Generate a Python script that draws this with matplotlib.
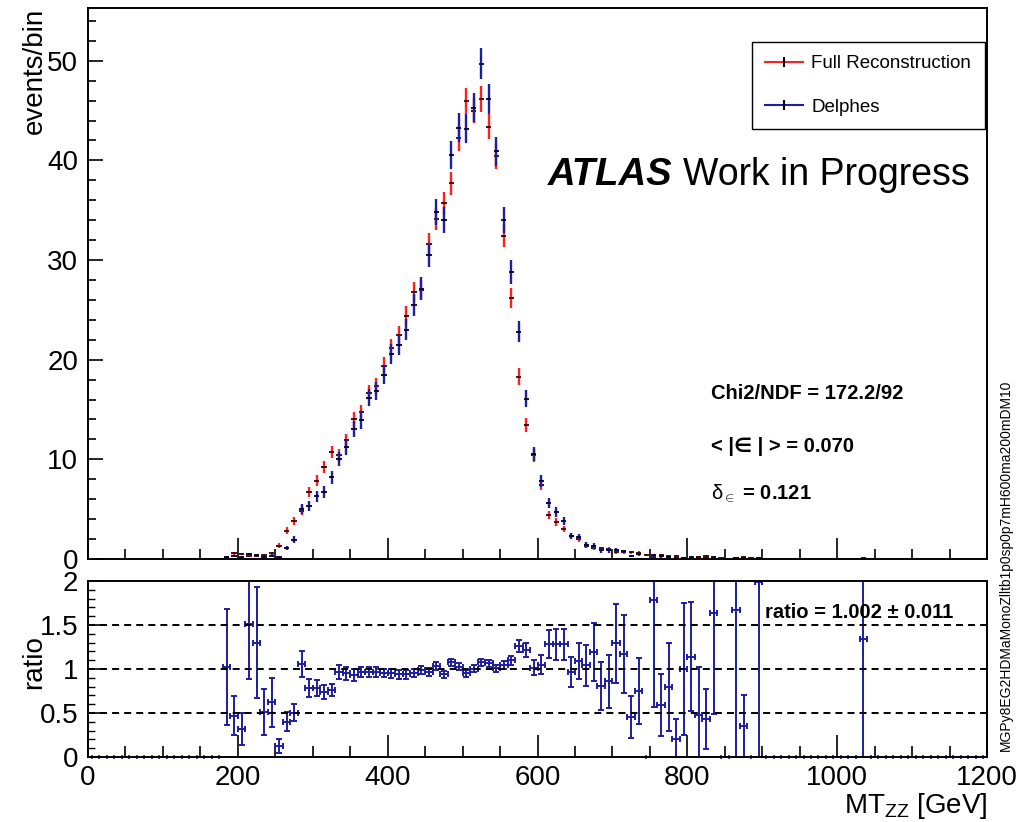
import matplotlib
matplotlib.use("Agg")
import matplotlib.pyplot as plt
from matplotlib.lines import Line2D
import numpy as np

plt.rcParams['font.family'] = ['Liberation Sans', 'DejaVu Sans']
plt.rcParams['mathtext.fontset'] = 'custom'
plt.rcParams['mathtext.rm'] = 'Liberation Sans'
plt.rcParams['mathtext.it'] = 'Liberation Sans:italic'
plt.rcParams['mathtext.bf'] = 'Liberation Sans:bold'

# 10 GeV bins from 0 to 1200 GeV
bin_edges = np.arange(0, 1210, 10)
centers = 0.5 * (bin_edges[:-1] + bin_edges[1:])

# events/bin (bin 0 = 0-10 GeV)
full_reco = [0] * 18 + [
    0.15, 0.57, 0.5, 0.3, 0.3, 0.4, 0.55, 1.35, 2.85, 3.8,
    4.85, 6.7, 7.85, 9.2, 10.75, 10.4, 11.9, 14.0, 14.7, 16.7,
    17.4, 19.4, 21.2, 22.5, 24.4, 26.8, 27.0, 31.6, 34.1, 35.7,
    37.7, 42.2, 46.0, 45.0, 46.2, 43.4, 40.4, 32.4, 26.2, 18.3,
    13.4, 10.4, 7.4, 4.4, 3.7, 3.0, 2.35, 2.0, 1.35, 1.1,
    1.05, 1.0, 0.7, 0.65, 0.65, 0.6, 0.4, 0.2, 0.42, 0.25,
    0.28, 0.12, 0.14, 0.21, 0.28, 0.11, 0.1, 0, 0.06, 0.2,
    0.1, 0.05, 0.04, 0, 0.04, 0.04, 0.04, 0.04, 0.04, 0,
    0, 0.04, 0, 0, 0, 0.04, 0.04, 0, 0, 0.04,
    0, 0, 0.04, 0, 0, 0, 0, 0, 0.04, 0,
    0.04, 0]

delphes = [0] * 18 + [
    0.15, 0.27, 0.16, 0.45, 0.39, 0.2, 0.34, 0.18, 1.1, 1.95,
    5.0, 5.35, 6.3, 6.7, 8.2, 10.0, 11.2, 13.0, 13.9, 16.2,
    16.9, 18.5, 20.6, 21.5, 23.0, 25.5, 27.1, 30.5, 34.8, 34.0,
    40.5, 43.3, 43.2, 45.3, 49.7, 46.2, 40.9, 34.0, 28.8, 22.8,
    16.1, 10.5, 7.8, 5.6, 4.7, 3.8, 2.3, 2.2, 1.4, 1.3,
    0.85, 0.85, 0.9, 0.75, 0.3, 0.45, 0, 0.35, 0.25, 0.2,
    0.06, 0.12, 0.16, 0.1, 0.12, 0.18, 0, 0.04, 0.1, 0.07,
    0, 0.12, 0, 0.04, 0, 0, 0, 0, 0.04, 0.04,
    0, 0, 0.04, 0, 0, 0.05, 0.04, 0, 0.04, 0,
    0, 0, 0, 0, 0, 0, 0, 0, 0, 0,
    0, 0]

# Delphes / Full Reconstruction
ratio = [0] * 18 + [
    1.02, 0.47, 0.315, 1.51, 1.30, 0.51, 0.62, 0.13, 0.40, 0.505,
    1.06, 0.785, 0.785, 0.74, 0.76, 0.97, 0.95, 0.93, 0.965, 0.965,
    0.965, 0.955, 0.95, 0.94, 0.94, 0.95, 0.99, 0.97, 1.035, 0.94,
    1.075, 1.025, 0.95, 1.005, 1.075, 1.063, 1.006, 1.05, 1.10, 1.26,
    1.215, 1.013, 1.05, 1.28, 1.28, 1.28, 0.97, 1.09, 1.04, 1.195,
    0.805, 0.86, 1.29, 1.17, 0.455, 0.75, 0, 1.78, 0.59, 0.80,
    0.21, 0.995, 1.14, 0.475, 0.43, 1.64, 0, 0, 1.67, 0.35,
    0, 1.99, 0, 0, 0, 0, 0, 0, 0, 0,
    0, 0, 0, 0, 0, 1.336] + [0] * 16

ratio_err = [0] * 18 + [
    0.66, 0.22, 0.18, 0.62, 0.63, 0.26, 0.28, 0.08, 0.11, 0.095,
    0.146, 0.10, 0.09, 0.08, 0.07, 0.08, 0.07, 0.065, 0.06, 0.06,
    0.055, 0.05, 0.05, 0.05, 0.05, 0.045, 0.045, 0.045, 0.045, 0.04,
    0.04, 0.04, 0.04, 0.04, 0.04, 0.04, 0.04, 0.045, 0.05, 0.07,
    0.08, 0.085, 0.11, 0.16, 0.18, 0.18, 0.17, 0.2, 0.23, 0.33,
    0.27, 0.3, 0.45, 0.44, 0.24, 0.37, 0, 1.21, 0.35, 0.5,
    0.22, 0.75, 0.62, 0.55, 0.34, 1.15, 0, 0, 1.67, 0.36,
    0, 2.0, 0, 0, 0, 0, 0, 0, 0, 0,
    0, 0, 0, 0, 0, 1.4] + [0] * 16

# mean event weights -> stat. error sqrt(sum w^2) of each bin
w_full = 0.037
w_delphes = 0.049

RED = '#ff1f1f'
BLUE = '#1e1ea0'

fig = plt.figure(figsize=(10.2, 8.22), dpi=100)
ax = fig.add_axes([0.0863, 0.3200, 0.8814, 0.6703])
rax = fig.add_axes([0.0863, 0.0791, 0.8814, 0.2141])

# upper pad
for vals, w, col, dark in [(full_reco, w_full, RED, '#3a0000'),
                           (delphes, w_delphes, BLUE, '#00002a')]:
    v = np.array(vals, dtype=float)
    m = v > 0
    err = np.sqrt(w * v[m])
    ax.errorbar(centers[m], v[m], yerr=err, fmt='none', ecolor=col, elinewidth=1.7)
    ax.errorbar(centers[m], v[m], xerr=3.5, fmt='none', ecolor=dark, elinewidth=1.3)

ax.set_xlim(0, 1200)
ax.set_ylim(0, 55.3)
ax.set_xticks(np.arange(0, 1201, 200))
ax.set_xticks(np.arange(0, 1201, 50), minor=True)
ax.set_yticks(np.arange(0, 51, 10))
ax.set_yticks(np.arange(0, 55, 2), minor=True)
ax.tick_params(axis='x', which='major', direction='in', length=15, width=1.2, labelbottom=False)
ax.tick_params(axis='x', which='minor', direction='in', length=7.5, width=1.2)
ax.tick_params(axis='y', which='major', direction='in', length=11, width=1.2, labelsize=20, pad=7)
ax.tick_params(axis='y', which='minor', direction='in', length=6, width=1.2)
ax.set_ylabel('events/bin', fontsize=20, loc='top')
ax.yaxis.set_label_coords(-0.045, 1.0)
for s in ax.spines.values():
    s.set_linewidth(1.4)

# legend
handles = [Line2D([], [], color=RED, lw=1.5, marker='|', ms=7, mew=1.5, mec='black'),
           Line2D([], [], color=BLUE, lw=1.5, marker='|', ms=7, mew=1.5, mec='black')]
leg = ax.legend(handles, ['Full Reconstruction', 'Delphes'], fontsize=13.5,
                loc='center', bbox_to_anchor=(752 / 1020, 1 - 131 / 822, 233 / 1020, 91 / 822),
                bbox_transform=fig.transFigure, mode='expand', fancybox=False,
                edgecolor='black', framealpha=1, borderpad=0.7, labelspacing=1.4,
                handlelength=2.0, handletextpad=0.45, borderaxespad=0)
leg.get_frame().set_linewidth(1.0)

fig.text(548 / 1020, 1 - 185 / 822, 'ATLAS', fontsize=27.5, fontweight='bold', style='italic')
fig.text(683 / 1020, 1 - 185 / 822, 'Work in Progress', fontsize=27)

fig.text(711 / 1020, 1 - 399 / 822, 'Chi2/NDF = 172.2/92', fontsize=14.5, fontweight='bold')
fig.text(711 / 1020, 1 - 452 / 822, '< |\u2208 | > = 0.070', fontsize=14.5, fontweight='bold')
fig.text(711 / 1020, 1 - 500 / 822, r'$\mathrm{\delta}_{\in}$ = 0.121', fontsize=14.5,
         fontweight='bold')

fig.text(1006 / 1020, 1 - 565 / 822, 'MGPy8EG2HDMaMonoZlltb1p0sp0p7mH600ma200mDM10',
         fontsize=10, rotation=90, ha='center', va='center')

# lower pad
r = np.array(ratio, dtype=float)
re = np.array(ratio_err, dtype=float)
m = r > 0
rax.errorbar(centers[m], r[m], xerr=5, yerr=re[m], fmt='none', ecolor=BLUE,
             elinewidth=1.4, capsize=2.5, capthick=1.4)
rax.plot(centers[~m], r[~m], ls='none', marker='|', ms=3, mew=1.2, color=BLUE, clip_on=False)
for yl in (0.5, 1.0, 1.5):
    rax.axhline(yl, color='black', lw=1.4, ls=(0, (3.6, 2.6)))

rax.set_xlim(0, 1200)
rax.set_ylim(0, 2)
rax.set_xticks(np.arange(0, 1201, 200))
rax.set_xticks(np.arange(0, 1201, 50), minor=True)
rax.set_yticks([0, 0.5, 1, 1.5, 2])
rax.set_yticklabels(['0', '0.5', '1', '1.5', '2'])
rax.set_yticks(np.arange(0, 2.01, 0.1), minor=True)
rax.tick_params(axis='x', which='major', direction='in', length=16, width=1.2, labelsize=20, pad=6)
rax.tick_params(axis='x', which='minor', direction='in', length=8, width=1.2)
rax.tick_params(axis='y', which='major', direction='in', length=9, width=1.2, labelsize=20, pad=7)
rax.tick_params(axis='y', which='minor', direction='in', length=5, width=1.0)
rax.set_ylabel('ratio', fontsize=20)
rax.yaxis.set_label_coords(-0.045, 0.54)
rax.set_xlabel(r'MT$_{\mathrm{ZZ}}$ [GeV]', fontsize=20, loc='right', labelpad=0)
for s in rax.spines.values():
    s.set_linewidth(1.4)

rax.text(0.753, 0.79, 'ratio = 1.002 \u00b1 0.011', transform=rax.transAxes,
         fontsize=14.5, fontweight='bold', va='baseline')

fig.savefig('out.png', dpi=100)
